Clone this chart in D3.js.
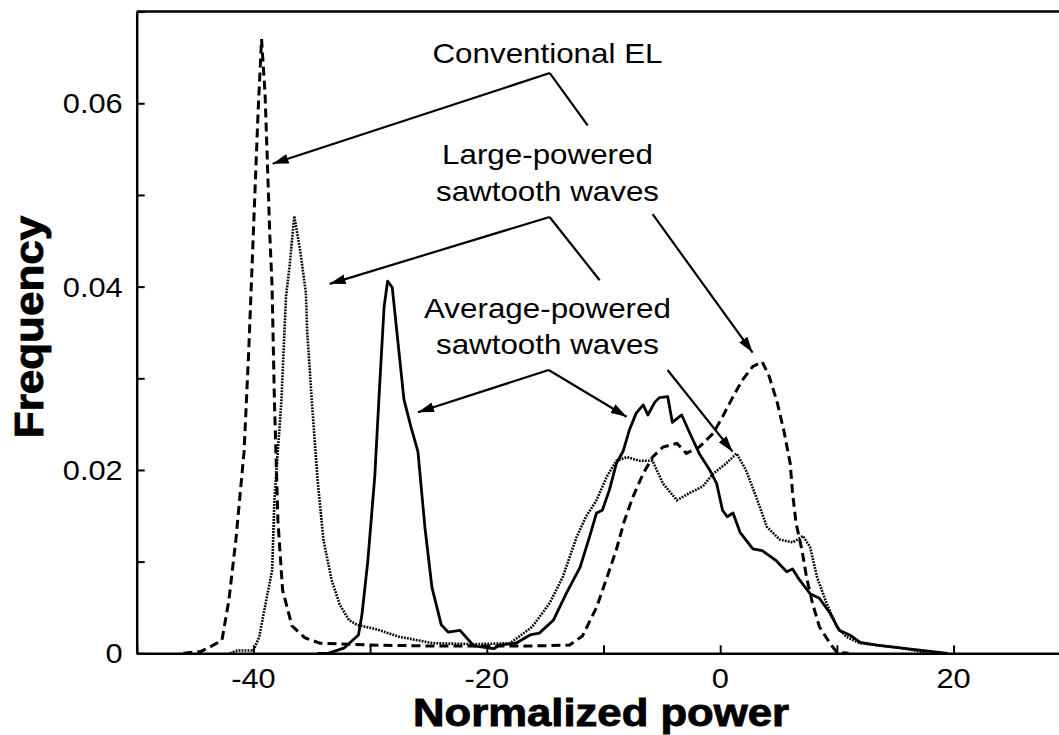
<!DOCTYPE html>
<html><head><meta charset="utf-8">
<script src="https://cdn.jsdelivr.net/npm/d3@7"></script>
<style>body{margin:0;background:#fff}svg{display:block}text{font-family:"Liberation Sans",Arial,sans-serif}</style>
</head><body><svg id="c" width="1059" height="735"></svg>
<script>
// ---- data ----
const conventionalEL = [[-46,0],[-44.5,0.0002],[-43.7,0.0007],[-42.7,0.0014],[-42.1,0.0058],[-41.5,0.0124],[-40.8,0.022],[-40.4,0.033],[-40.0,0.046],[-39.6,0.059],[-39.3,0.067],[-39.0,0.061],[-38.8,0.0535],[-38.6,0.0458],[-38.4,0.040],[-38.2,0.0276],[-37.9,0.0145],[-37.5,0.0069],[-36.7,0.003],[-35.6,0.0017],[-34.3,0.0011],[-30,0.0009],[-25,0.0008],[-20,0.0008],[-16,0.0008],[-12.9,0.0009],[-11.8,0.0019],[-10.6,0.005],[-9.7,0.0083],[-8.9,0.0113],[-8.2,0.0145],[-7.5,0.017],[-6.6,0.0196],[-5.8,0.0214],[-4.9,0.0225],[-3.7,0.0229],[-2.9,0.0218],[-1.8,0.0225],[-0.6,0.024],[0.2,0.0258],[1.1,0.028],[1.9,0.0298],[2.8,0.0313],[3.6,0.0318],[4.2,0.0302],[4.9,0.0273],[5.5,0.024],[6.0,0.0207],[6.2,0.0175],[6.5,0.0142],[7.0,0.0113],[7.4,0.0083],[7.9,0.0055],[8.5,0.0029],[9.4,0.0011],[10,0.0001],[11,0]];
const largePowered = [[-42,0],[-41.4,0.0003],[-40,0.0003],[-39.5,0.0018],[-38.9,0.0058],[-38.4,0.009],[-38.2,0.0167],[-37.6,0.0276],[-37.2,0.0390],[-36.9,0.0422],[-36.5,0.0477],[-36.0,0.044],[-35.5,0.0393],[-35.4,0.0353],[-35.0,0.0276],[-34.5,0.0189],[-34.0,0.0124],[-33.3,0.008],[-32.6,0.0053],[-31.8,0.0036],[-31.1,0.0031],[-29.4,0.0026],[-27.5,0.0018],[-24.6,0.0011],[-21,0.001],[-18,0.0011],[-16.1,0.0029],[-14.6,0.0055],[-13.5,0.0083],[-12.3,0.0127],[-11.5,0.0149],[-10.6,0.0167],[-9.7,0.0193],[-8.9,0.021],[-8.0,0.0214],[-6.9,0.021],[-5.8,0.021],[-4.9,0.0185],[-3.7,0.0167],[-2.6,0.0175],[-1.5,0.0182],[-0.6,0.0196],[0.5,0.0207],[1.4,0.0218],[2.2,0.020],[3.1,0.017],[4.0,0.0138],[5.1,0.0124],[6.2,0.0121],[7.1,0.0128],[7.7,0.0116],[8.3,0.0083],[9.1,0.0055],[10.0,0.0029],[10.8,0.0018],[12,0.0011],[15.4,0.0006],[18,0]];
const averagePowered = [[-34.5,0],[-33.6,0],[-32.2,0.0006],[-31.0,0.002],[-30.7,0.0042],[-30.2,0.010],[-29.6,0.0193],[-29.2,0.0288],[-28.8,0.0378],[-28.5,0.0406],[-28.1,0.0399],[-27.1,0.0277],[-26.5,0.0247],[-25.9,0.022],[-25.3,0.0137],[-24.7,0.0072],[-23.9,0.0031],[-23.3,0.0023],[-22.3,0.0025],[-21.1,0.0008],[-19.4,0.0005],[-18.9,0.0009],[-17.5,0.0011],[-16.3,0.002],[-15.5,0.0022],[-14.3,0.0036],[-13.2,0.0065],[-12.0,0.0094],[-11.2,0.0127],[-10.6,0.0153],[-10.1,0.0156],[-9.5,0.0178],[-8.9,0.0207],[-8.3,0.0221],[-7.8,0.0243],[-7.2,0.0262],[-6.6,0.0271],[-6.2,0.026],[-5.6,0.0274],[-5.2,0.0279],[-4.5,0.028],[-4.1,0.0252],[-3.3,0.026],[-2.6,0.024],[-1.8,0.0218],[-0.9,0.020],[-0.3,0.0185],[0.2,0.0156],[0.6,0.0149],[1.1,0.0153],[1.7,0.0132],[2.8,0.0114],[3.6,0.0112],[4.8,0.0101],[5.7,0.0089],[6.2,0.0092],[6.8,0.008],[7.7,0.0065],[8.5,0.006],[9.4,0.0044],[10.2,0.0025],[11.1,0.002],[12.0,0.0012],[13.4,0.0009],[15.4,0.0006],[19.5,0]];
const xTicks = [-50,-40,-30,-20,-10,0,10,20,30];
const xTickLabels = [-40,-20,0,20];
const yTicks = [0,0.01,0.02,0.03,0.04,0.05,0.06,0.07];
const yTickLabels = [0,0.02,0.04,0.06];
const annotationLabels = [
  {lines:["Conventional EL"], x:-14.8, y:[0.0644]},
  {lines:["Large-powered","sawtooth waves"], x:-14.8, y:[0.0534,0.0493]},
  {lines:["Average-powered","sawtooth waves"], x:-14.8, y:[0.0366,0.0326]}
];
// arrows: [start, end, arrowhead?] in data coords
const annotationArrows = [
  [[-14.6,0.0633],[-38.35,0.0534],true],
  [[-14.6,0.0633],[-11.36,0.0576],false],
  [[-5.79,0.0479],[2.78,0.0328],true],
  [[-14.62,0.0476],[-33.46,0.0403],true],
  [[-14.62,0.0476],[-10.33,0.0407],false],
  [[-4.51,0.0309],[1.06,0.0220],true],
  [[-14.7,0.0309],[-25.9,0.0263],true],
  [[-14.7,0.0309],[-8.02,0.0258],true]
];

const svg = d3.select("#c");
const L = 136.7, B = 653.3;
const x = d3.scaleLinear().domain([-50,30]).range([L, L + 80*11.67]);
const y = d3.scaleLinear().domain([0,0.07]).range([B, B - 0.07*9167]);
const SX = 1.1; // text in the figure is slightly stretched horizontally

svg.append("defs").append("marker").attr("id","ah").attr("viewBox","0 0 16 10")
  .attr("refX",16).attr("refY",5).attr("markerWidth",16).attr("markerHeight",10)
  .attr("markerUnits","userSpaceOnUse").attr("orient","auto")
  .append("path").attr("d","M0,0 L16,5 L0,10 Z").attr("fill","#000");

// axes
const xAxis = d3.axisBottom(x).tickValues(xTicks).tickSizeInner(-8).tickSizeOuter(0).tickFormat("");
const yAxis = d3.axisLeft(y).tickValues(yTicks).tickSizeInner(-8).tickSizeOuter(0).tickFormat("");
const gx = svg.append("g").attr("transform",`translate(0,${B})`).call(xAxis);
const gy = svg.append("g").attr("transform",`translate(${L},0)`).call(yAxis);
[gx,gy].forEach(g=>{g.select(".domain").attr("stroke","#000").attr("stroke-width",2.5);
  g.selectAll(".tick line").attr("stroke","#000").attr("stroke-width",2);});
svg.append("line").attr("x1",L).attr("x2",1059).attr("y1",y(0.07)).attr("y2",y(0.07))
  .attr("stroke","#000").attr("stroke-width",2.5);

svg.append("g").selectAll("text").data(xTickLabels).join("text")
  .attr("transform",d=>`translate(${x(d)},${B+35}) scale(${SX},1)`).attr("text-anchor","middle")
  .attr("font-size",28).text(d=>d);
svg.append("g").selectAll("text").data(yTickLabels).join("text")
  .attr("transform",d=>`translate(${L-14},${y(d)+10}) scale(${SX},1)`).attr("text-anchor","end")
  .attr("font-size",28).text(d=>d===0?"0":d.toFixed(2));

svg.append("text").attr("transform",`translate(601,726) scale(1.12,1)`).attr("text-anchor","middle")
  .attr("font-size",39).attr("font-weight","bold").attr("stroke","#000").attr("stroke-width",0.9)
  .text("Normalized power");
svg.append("text").attr("transform",`translate(43,327) rotate(-90) scale(${SX},1)`).attr("text-anchor","middle")
  .attr("font-size",40).attr("font-weight","bold").attr("stroke","#000").attr("stroke-width",0.9)
  .text("Frequency");

// curves
const line = d3.line().x(d=>x(d[0])).y(d=>y(d[1]));
svg.append("path").datum(conventionalEL).attr("d",line).attr("fill","none")
  .attr("stroke","#000").attr("stroke-width",3).attr("stroke-dasharray","9,5");
svg.append("path").datum(largePowered).attr("d",line).attr("fill","none")
  .attr("stroke","#000").attr("stroke-width",2.6).attr("stroke-dasharray","1.8,1.2");
svg.append("path").datum(averagePowered).attr("d",line).attr("fill","none")
  .attr("stroke","#000").attr("stroke-width",2.8).attr("stroke-linejoin","round");

// annotations
annotationArrows.forEach(a=>{
  svg.append("line").attr("x1",x(a[0][0])).attr("y1",y(a[0][1]))
    .attr("x2",x(a[1][0])).attr("y2",y(a[1][1]))
    .attr("stroke","#000").attr("stroke-width",2.2)
    .attr("marker-end",a[2]?"url(#ah)":null);
});
annotationLabels.forEach(t=>{
  t.lines.forEach((s,i)=>{
    svg.append("text").attr("transform",`translate(${x(t.x)},${y(t.y[i])}) scale(1.12,1)`)
      .attr("text-anchor","middle").attr("font-size",28).text(s);
  });
});
</script></body></html>
